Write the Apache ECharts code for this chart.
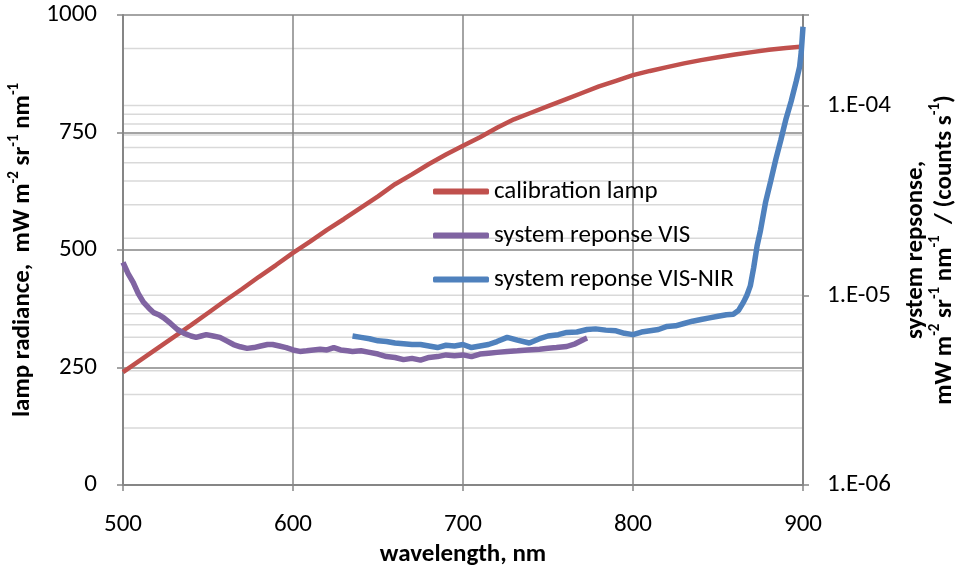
<!DOCTYPE html>
<html>
<head>
<meta charset="utf-8">
<script src="https://cdn.jsdelivr.net/npm/echarts@6/dist/echarts.min.js"></script>
<style>
html,body{margin:0;padding:0;background:#fff;}
#chart{width:961px;height:569px;}
</style>
</head>
<body>
<div id="chart"></div>
<script>
// ---- data ----
var lampWl = [500,510,520,530,540,550,560,570,580,590,600,610,620,630,640,650,660,670,680,690,700,710,720,730,740,750,760,770,780,790,800,810,820,830,840,850,860,870,880,890,900];
var lampVal = [240,265,290,315,340,366,392,417,443,468,494,518,543,566,590,614,640,661,683,703,722,740,760,778,792,806,820,834,848,860,872,881,889,897,904,910,916,921,926,930,933];

var visWl = [500,503,506,509,512,515,518,521,524,528,532,536,540,543,546,549,553,557,561,565,569,573,577,581,585,588,592,596,600,604,608,612,616,620,624,628,632,635,640,645,650,655,660,665,670,675,680,685,690,695,700,705,710,715,720,726,732,738,745,750,755,761,766,771,773];
var visVal = [1.49e-5,1.3e-5,1.17e-5,1.02e-5,9.2e-6,8.6e-6,8.1e-6,7.9e-6,7.6e-6,7.1e-6,6.6e-6,6.3e-6,6.1e-6,6.0e-6,6.1e-6,6.2e-6,6.1e-6,6.0e-6,5.75e-6,5.5e-6,5.35e-6,5.25e-6,5.3e-6,5.4e-6,5.5e-6,5.5e-6,5.4e-6,5.3e-6,5.15e-6,5.06e-6,5.1e-6,5.15e-6,5.2e-6,5.15e-6,5.3e-6,5.15e-6,5.1e-6,5.06e-6,5.1e-6,5.0e-6,4.9e-6,4.75e-6,4.7e-6,4.58e-6,4.65e-6,4.55e-6,4.7e-6,4.75e-6,4.85e-6,4.8e-6,4.85e-6,4.75e-6,4.9e-6,4.95e-6,5.0e-6,5.06e-6,5.1e-6,5.15e-6,5.2e-6,5.25e-6,5.3e-6,5.37e-6,5.55e-6,5.85e-6,5.95e-6];

var nirWl = [635,640,645,650,655,660,665,670,675,680,685,690,695,700,705,710,715,720,726,732,739,745,750,756,761,767,773,778,784,790,795,800,805,810,815,820,825,830,835,840,845,850,855,859,862,865,867,869,871,873,875,878,881,884,887,890,893,896,898,899,900];
var nirVal = [6.1e-6,6.0e-6,5.9e-6,5.75e-6,5.7e-6,5.6e-6,5.55e-6,5.5e-6,5.5e-6,5.4e-6,5.3e-6,5.45e-6,5.4e-6,5.5e-6,5.3e-6,5.4e-6,5.5e-6,5.7e-6,6.0e-6,5.8e-6,5.6e-6,5.9e-6,6.1e-6,6.2e-6,6.37e-6,6.4e-6,6.6e-6,6.65e-6,6.55e-6,6.5e-6,6.3e-6,6.2e-6,6.4e-6,6.5e-6,6.6e-6,6.85e-6,6.9e-6,7.1e-6,7.3e-6,7.45e-6,7.6e-6,7.75e-6,7.9e-6,7.95e-6,8.3e-6,9.2e-6,1.0e-5,1.12e-5,1.4e-5,1.82e-5,2.2e-5,3.1e-5,4.0e-5,5.2e-5,6.6e-5,8.5e-5,1.05e-4,1.34e-4,1.6e-4,1.93e-4,2.6e-4];

var seriesNames = ['calibration lamp','system reponse VIS','system reponse VIS-NIR'];
var xRange = [500, 900];
var rightTickValues = [1e-6,1e-5,1e-4];
var rightTickLabels = ['1.E-06','1.E-05','1.E-04'];
var rightMinorGrid = [2e-6,3e-6,4e-6,5e-6,6e-6,7e-6,8e-6,9e-6,1e-5,2e-5,3e-5,4e-5,5e-5,6e-5,7e-5,8e-5,9e-5,1e-4,2e-4];

function pairs(xs, ys){ return xs.map(function(x,i){ return [x, ys[i]]; }); }

var FONT = 'Carlito, Lato, sans-serif';
var GRID_DARK = '#868686';
var GRID_LIGHT = '#d9d9d9';

var supRich = {
  n: {fontFamily: FONT, fontSize: 25, fontWeight: 'bold', color: '#000', lineHeight: 29, verticalAlign: 'bottom'},
  s: {fontFamily: FONT, fontSize: 15, fontWeight: 'bold', color: '#000', lineHeight: 29, verticalAlign: 'top'}
};

// light log-axis gridlines, drawn through the right (log) axis
var gridSeries = rightMinorGrid.map(function(v){
  return {
    name: 'grid-' + v, type: 'line', yAxisIndex: 1, silent: true, z: 1,
    showSymbol: false, symbol: 'none', legendHoverLink: false,
    data: [[xRange[0], v], [xRange[1], v]],
    lineStyle: {color: GRID_LIGHT, width: 1.5},
    emphasis: {disabled: true}, tooltip: {show: false}
  };
});

var chart = echarts.init(document.getElementById('chart'), null, {renderer: 'canvas'});
chart.setOption({
  animation: false,
  backgroundColor: '#fff',
  grid: {left: 123, right: 158, top: 15, bottom: 84, containLabel: false, outerBoundsMode: 'none'},
  legend: {
    data: seriesNames,
    orient: 'vertical',
    left: 433,
    top: 179,
    padding: 0,
    itemWidth: 56,
    itemHeight: 6,
    itemGap: 19,
    icon: 'roundRect',
    textStyle: {fontFamily: FONT, fontSize: 25, color: '#000', lineHeight: 25}
  },
  xAxis: {
    type: 'value', min: xRange[0], max: xRange[1], interval: 100,
    name: 'wavelength, nm', nameLocation: 'middle', nameGap: 52,
    nameTextStyle: {fontFamily: FONT, fontSize: 25, fontWeight: 'bold', color: '#000'},
    axisLine: {show: true, lineStyle: {color: GRID_DARK, width: 2}},
    axisTick: {show: true, inside: false, length: 6, lineStyle: {color: GRID_DARK, width: 1.5}},
    axisLabel: {fontFamily: FONT, fontSize: 25, color: '#000', margin: 27},
    splitLine: {show: true, lineStyle: {color: GRID_DARK, width: 1.5}},
    z: 3
  },
  yAxis: [{
    type: 'value', min: 0, max: 1000, interval: 250, position: 'left',
    name: '{n|lamp radiance,  mW m}{s|-2}{n| sr}{s|-1}{n| nm}{s|-1}',
    nameLocation: 'middle', nameRotate: 90, nameGap: 76,
    nameTextStyle: {rich: supRich},
    axisLine: {show: true, lineStyle: {color: GRID_DARK, width: 2}},
    axisTick: {show: true, inside: false, length: 6, lineStyle: {color: GRID_DARK, width: 1.5}},
    axisLabel: {fontFamily: FONT, fontSize: 25, color: '#000', margin: 26, formatter: function(v){ return String(v); }},
    splitLine: {show: true, lineStyle: {color: GRID_DARK, width: 1.5}},
    z: 3
  },{
    type: 'log', logBase: 10, min: 1e-6, max: 3e-4, position: 'right',
    name: '{n|system repsonse,}\n{n|mW m}{s|-2}{n| sr}{s|-1}{n| nm}{s|-1}{n|  / (counts s}{s|-1}{n|)}',
    nameLocation: 'middle', nameRotate: 90, nameGap: 96,
    nameTextStyle: {rich: supRich, align: 'center'},
    axisLine: {show: true, lineStyle: {color: GRID_DARK, width: 2}},
    axisTick: {show: true, inside: false, length: 6, lineStyle: {color: GRID_DARK, width: 1.5}},
    axisLabel: {
      fontFamily: FONT, fontSize: 25, color: '#000', margin: 24,
      formatter: function(v){
        for (var i = 0; i < rightTickValues.length; i++) {
          if (Math.abs(Math.log10(v) - Math.log10(rightTickValues[i])) < 1e-6) return rightTickLabels[i];
        }
        return '';
      }
    },
    splitLine: {show: false},
    z: 3
  }],
  series: gridSeries.concat([{
    name: seriesNames[0], type: 'line', yAxisIndex: 0, showSymbol: false, symbol: 'none',
    data: pairs(lampWl, lampVal), z: 5,
    color: '#c0504d', lineStyle: {color: '#c0504d', width: 4.5}
  },{
    name: seriesNames[1], type: 'line', yAxisIndex: 1, showSymbol: false, symbol: 'none',
    data: pairs(visWl, visVal), z: 5,
    color: '#8064a2', lineStyle: {color: '#8064a2', width: 5.5}
  },{
    name: seriesNames[2], type: 'line', yAxisIndex: 1, showSymbol: false, symbol: 'none',
    data: pairs(nirWl, nirVal), z: 6,
    color: '#4f81bd', lineStyle: {color: '#4f81bd', width: 5.5}
  }])
});
</script>
</body>
</html>
